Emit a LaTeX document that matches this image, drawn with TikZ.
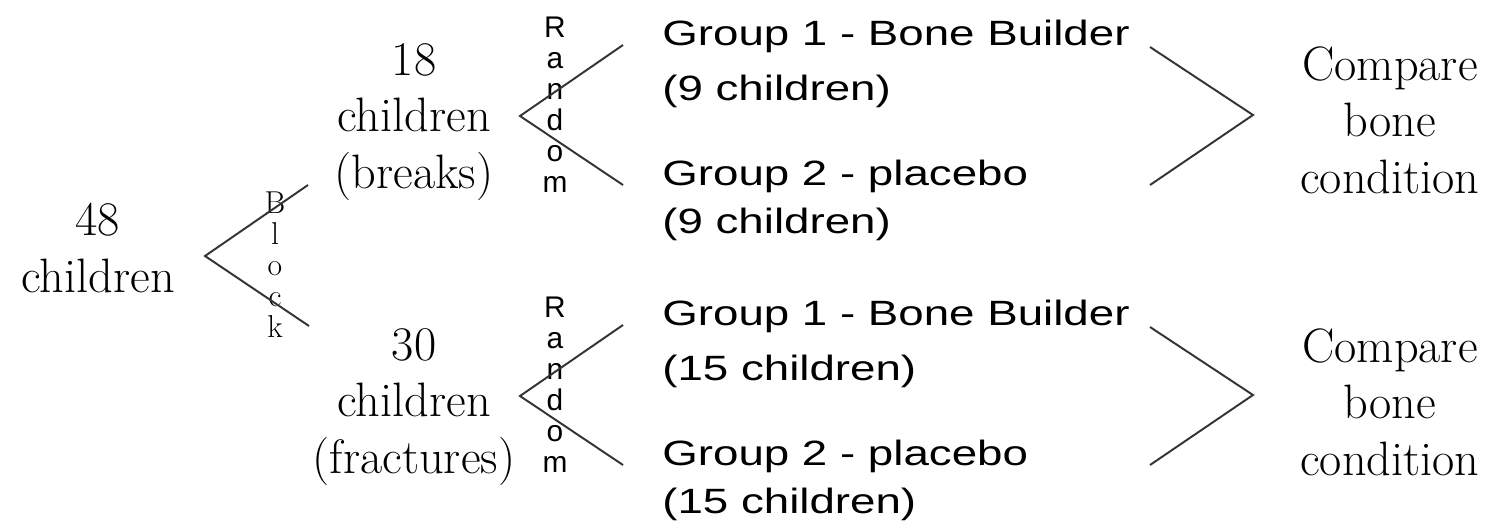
\documentclass[tikz,border=0pt]{standalone}
\usepackage{fontspec}
\usepackage{tikz}
\newfontfamily\grpfont[FakeStretch=1.3]{Liberation Sans}
\newfontfamily\rndfont{Liberation Sans}
\tikzset{count/.style = {align = center, anchor = base, inner sep = 0pt, font = \fontsize{27.5}{32}\selectfont}}
\tikzset{group/.style = {align = left, anchor = base west, inner sep = 0pt, font = \grpfont\fontsize{20}{31.3}\selectfont}}
\tikzset{blockword/.style = {align = center, anchor = base, inner sep = 0pt, font = \fontsize{18}{17.6}\selectfont}}
\tikzset{randword/.style = {align = center, anchor = base, inner sep = 0pt, font = \rndfont\fontsize{17}{17.6}\selectfont}}
\tikzset{edge/.style = {line width = 1.1pt, black!80}}

\begin{document}
\begin{tikzpicture}[x = 0.02cm, y = -0.02cm]
			\path[use as bounding box, fill = white] (0, 0) rectangle (1507, 531);

			% nodes sit on the baseline of their last line
			\node[count] (all) at (98, 292) {48\\children};
			\node[count] (breaks) at (414, 188) {18\\children\\(breaks)};
			\node[count] (fract) at (414, 473) {30\\children\\(fractures)};

			\node[blockword] (block) at (275, 337) {B\\l\\o\\c\\k};
			\node[randword] (randa) at (555, 192) {R\\a\\n\\d\\o\\m};
			\node[randword] (randb) at (555, 472) {R\\a\\n\\d\\o\\m};

			\node[group] (ga1) at (662, 100) {Group 1 - Bone Builder\\(9 children)};
			\node[group] (ga2) at (662, 233) {Group 2 - placebo\\[-4pt](9 children)};
			\node[group] (gb1) at (662, 380) {Group 1 - Bone Builder\\(15 children)};
			\node[group] (gb2) at (662, 513) {Group 2 - placebo\\[-4pt](15 children)};

			\node[count] (cmpa) at (1390, 193) {Compare\\bone\\condition};
			\node[count] (cmpb) at (1390, 475) {Compare\\bone\\condition};

			% split points and free ends
			\coordinate (bv) at (205, 256);
			\coordinate (bu) at (308, 185);
			\coordinate (bl) at (309, 326);
			\coordinate (rav) at (520, 116);
			\coordinate (rau) at (623, 45);
			\coordinate (ral) at (623, 185);
			\coordinate (rbv) at (520, 396);
			\coordinate (rbu) at (623, 325);
			\coordinate (rbl) at (623, 465);
			\coordinate (cav) at (1253, 115);
			\coordinate (cau) at (1150, 47);
			\coordinate (cal) at (1150, 185);
			\coordinate (cbv) at (1253, 395);
			\coordinate (cbu) at (1150, 327);
			\coordinate (cbl) at (1150, 465);

			\draw[edge] (bu) -- (bv) -- (bl);
			\draw[edge] (rau) -- (rav) -- (ral);
			\draw[edge] (rbu) -- (rbv) -- (rbl);
			\draw[edge] (cau) -- (cav) -- (cal);
			\draw[edge] (cbu) -- (cbv) -- (cbl);
		\end{tikzpicture}
\end{document}
